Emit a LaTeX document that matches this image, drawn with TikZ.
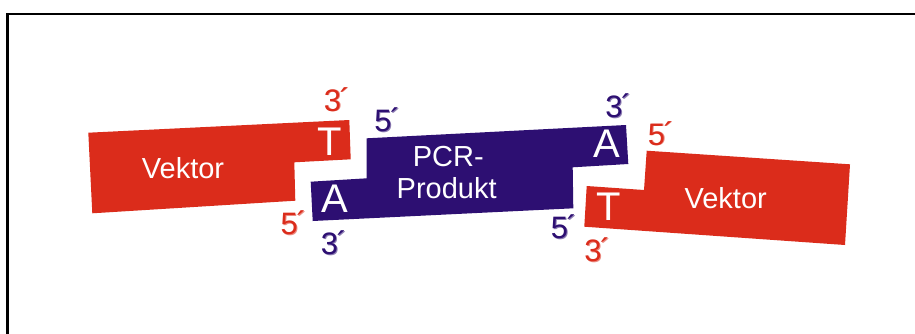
\documentclass[tikz,border=0pt]{standalone}
\usepackage{fontspec}
\setmainfont{Liberation Sans}
\definecolor{vecred}{HTML}{DB2C1B}
\definecolor{pcrblue}{HTML}{2D0F72}
\newcommand{\primemark}{\kern-1.5pt\raisebox{1pt}{´}}
\begin{document}
\begin{tikzpicture}[x=1pt,y=-1pt,
  lbl/.style={inner sep=0pt,text=white,font=\fontsize{29}{31}\selectfont,align=center},
  base/.style={inner sep=0pt,text=white,font=\fontsize{40}{40}\selectfont},
  endr/.style={inner sep=0pt,text=vecred,font=\fontsize{31}{31}\selectfont},
  endb/.style={inner sep=0pt,text=pcrblue,font=\fontsize{31}{31}\selectfont},
  shad/.style={xshift=0.9pt,yshift=-0.9pt,opacity=0.55}]
\useasboundingbox (0,0) rectangle (915,333);
\fill[white] (0,0) rectangle (915,333);
% frame
\draw[line width=2.2pt] (7.5,340) -- (7.5,14) -- (920,14);
% left vector
\fill[vecred] (88.3,132.7) -- (349.3,120) -- (350.7,159.3) -- (294.3,162.3)
  -- (295.3,200.7) -- (92.3,213.3) -- cycle;
% PCR product
\fill[pcrblue] (366.7,138.3) -- (626,125) -- (628.3,164) -- (572.7,167.3)
  -- (573.3,208.3) -- (312.7,221) -- (310.7,181.7) -- (366.7,178.3) -- cycle;
% right vector
\fill[vecred] (646.7,150.7) -- (850,164.3) -- (845,245) -- (584.3,226.7)
  -- (586.7,186) -- (644,190) -- cycle;
% labels
\node[lbl] (vl) at (183,168) {Vektor};
\node[lbl] (vr) at (725.7,198.3) {Vektor};
\node[lbl] (pcr1) at (448.3,156.7) {PCR-};
\node[lbl] (pcr2) at (446.7,188.3) {Produkt};
\node[base] (tl) at (330,141.7) {T};
\node[base] (al) at (335,198.3) {A};
\node[base] (ar) at (606.7,143.3) {A};
\node[base] (tr) at (608.3,206.7) {T};
% ends (with slight shadow copy)
\foreach \x/\y/\s/\t/\n in {337.5/99.3/endr/3/e1, 294.2/222.5/endr/5/e2,
    334.4/242.8/endb/3/e3, 388/119.5/endb/5/e4, 619/106.2/endb/3/e5,
    564.5/227.2/endb/5/e6, 597.9/250/endr/3/e7, 661.4/133.3/endr/5/e8}{
  \node[\s,shad] at (\x-0.5,\y) {\t\primemark};
  \node[\s] (\n) at (\x-0.5,\y) {\t\primemark};
}
\end{tikzpicture}
\end{document}
